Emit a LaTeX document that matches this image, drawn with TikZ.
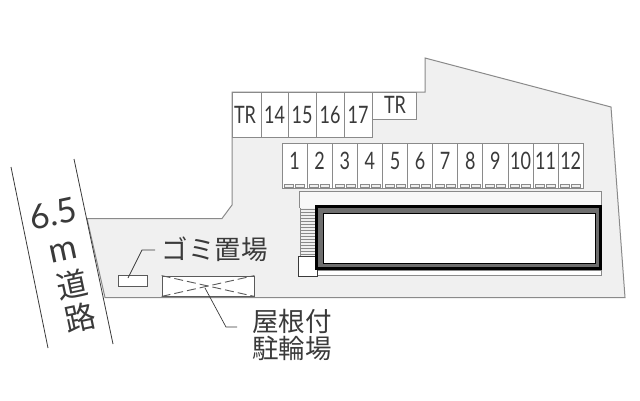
\documentclass[tikz,border=0pt]{standalone}
\usepackage{fontspec}
\setmainfont{Lato}
\newfontfamily\cjk{Noto Sans CJK JP}
\usetikzlibrary{positioning}
\definecolor{lotgray}{HTML}{F0F0F0}
\definecolor{edgegray}{HTML}{8A8A8A}
\definecolor{boxgray}{HTML}{5A5A5A}
\definecolor{inkgray}{HTML}{3A3A3A}
\tikzstyle{stall}=[draw=edgegray, fill=white, line width=0.8pt, inner sep=0pt, minimum width=28pt, minimum height=45pt]
\tikzstyle{smallbox}=[stall, draw=boxgray]
\tikzstyle{digits}=[inner sep=0pt, text=inkgray, font=\fontsize{24}{24}\selectfont, xscale=0.75]
\tikzstyle{caption}=[inner sep=0pt, text=inkgray, font=\cjk\fontsize{26.5}{26.5}\selectfont]
\tikzstyle{roadtext}=[inner sep=0pt, text=inkgray, rotate=12]
\tikzstyle{leader}=[draw=inkgray, line width=0.7pt]
\tikzstyle{crossing}=[draw=boxgray, line width=0.9pt, dash pattern=on 9pt off 4pt]
\begin{document}
\begin{tikzpicture}[x=1pt, y=-1pt]
        \useasboundingbox (0, 0) rectangle (640, 400);
        \fill[white] (0, 0) rectangle (640, 400);
        \draw[edgegray, line width=1pt, fill=lotgray] (232, 92) -- (425, 92) -- (425, 58) -- (611, 107) -- (625, 297.5) -- (105, 297.5) -- (87, 218.5) -- (222, 218.5) -- (232, 205) -- cycle;
        \draw[inkgray, line width=0.8pt] (74, 159) -- (113, 344);
        \draw[inkgray, line width=0.8pt] (11, 167) -- (48, 348);
        \node[stall, minimum width=29pt] (TRa) at (246.5, 114.5) {};
        \node[stall, minimum width=27pt] (S14) at (274.5, 114.5) {};
        \node[stall] (S15) at (302, 114.5) {};
        \node[stall] (S16) at (330, 114.5) {};
        \node[stall] (S17) at (358, 114.5) {};
        \node[stall, minimum width=44pt, minimum height=27pt] (TRb) at (394, 105.5) {};
        \node[digits] at (245, 114.5) {TR};
        \node[digits] at (S14) {14};
        \node[digits] at (S15) {15};
        \node[digits] at (S16) {16};
        \node[digits] at (S17) {17};
        \node[digits] at (395, 105) {TR};
        \foreach \n in {1,...,12} {
            \node[stall, minimum width=25.1pt] (P\n) at ({269.5 + 25.1*\n}, 165.5) {};
            \node[digits] at ({269.5 + 25.1*\n}, 160.5) {\n};
            \draw[edgegray, line width=0.6pt, fill=lotgray] ({259.5 + 25.1*\n}, 184) rectangle +(9, 3.5);
            \draw[edgegray, line width=0.6pt, fill=lotgray] ({270.5 + 25.1*\n}, 184) rectangle +(9, 3.5);
        }
        \draw[edgegray, line width=1pt, fill=lotgray!50!white] (299, 208) -- (299, 191) -- (601, 191) -- (601, 208);
        \draw[edgegray, line width=1pt, fill=white] (317, 270) rectangle (601, 275);
        \foreach \y in {209, 212, ..., 254} {
            \draw[edgegray, line width=0.9pt] (301, \y) -- (316, \y);
        }
        \draw[edgegray, line width=0.8pt] (300, 208) -- (300, 256);
        \draw[inkgray, line width=0.9pt, fill=white] (298.5, 256) rectangle (317, 276);
        \draw[edgegray!80!black, line width=7pt, fill=white] (319, 209) rectangle (598, 266);
        \draw[black, line width=3pt] (316.5, 206.5) rectangle (600.5, 268.5);
        \draw[black, line width=1pt] (323, 213) rectangle (595, 263);
        \node[smallbox, minimum width=29pt, minimum height=11pt] (bin) at (132.5, 280.5) {};
        \node[smallbox, minimum width=92pt, minimum height=20pt] (bike) at (208, 286) {};
        \draw[crossing] (bike.north west) -- (bike.south east);
        \draw[crossing] (bike.south west) -- (bike.north east);
        \draw[leader] (128, 278) -- (142, 250) -- (155, 250);
        \draw[leader] (205, 288) -- (226, 327) -- (237, 327);
        \node[caption] (binlabel) at (214.5, 249) {ゴミ置場};
        \node[caption, anchor=west] (roofa) at (252, 321) {屋根付};
        \node[caption, anchor=west] (roofb) at (252, 348) {駐輪場};
        \node[roadtext, font=\fontsize{34}{34}\selectfont] (width) at (53, 214) {6.5};
        \node[roadtext, font=\fontsize{34}{34}\selectfont] (unit) at (63, 252) {m};
        \node[roadtext, font=\cjk\fontsize{31}{31}\selectfont] (roada) at (72, 285) {道};
        \node[roadtext, font=\cjk\fontsize{31}{31}\selectfont] (roadb) at (80, 318) {路};
    \end{tikzpicture}
\end{document}
